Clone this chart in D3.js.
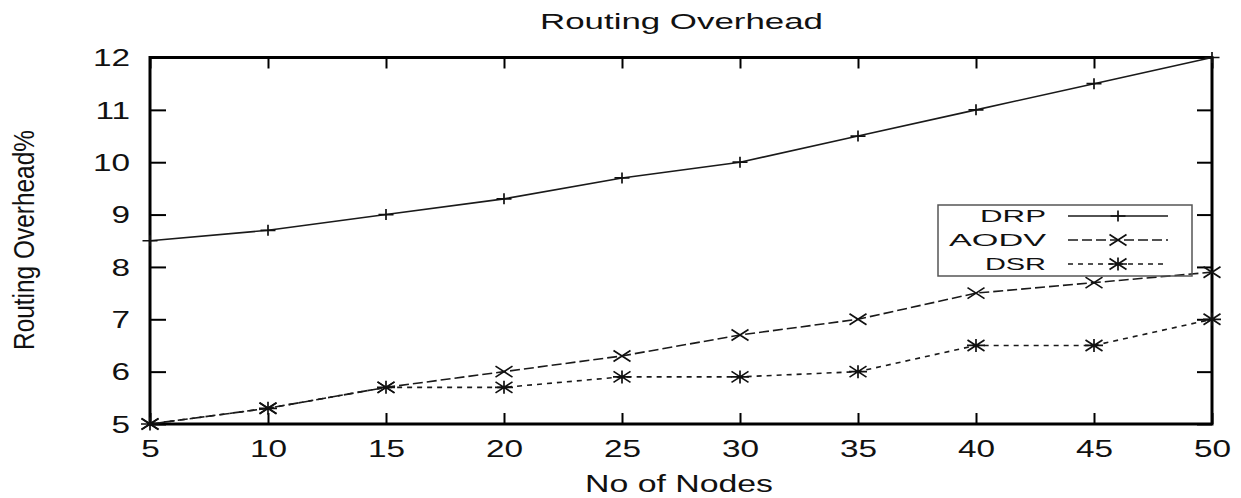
<!DOCTYPE html>
<html><head><meta charset="utf-8">
<script src="https://cdn.jsdelivr.net/npm/d3@7"></script>
<style>body{margin:0;background:#fff}svg{display:block}text{font-family:"Liberation Sans",Arial,sans-serif;fill:#111}</style>
</head><body>
<svg id="c" width="1241" height="498"></svg>
<script>
const nodes = [5,10,15,20,25,30,35,40,45,50];
const drp  = [8.5,8.7,9.0,9.3,9.7,10.0,10.5,11.0,11.5,12.0];
const aodv = [5.0,5.3,5.7,6.0,6.3,6.7,7.0,7.5,7.7,7.9];
const dsr  = [5.0,5.3,5.7,5.7,5.9,5.9,6.0,6.5,6.5,7.0];
const seriesNames = ["DRP","AODV","DSR"];
const yTicks = [5,6,7,8,9,10,11,12];
const xTicks = [5,10,15,20,25,30,35,40,45,50];
const titleText = "Routing Overhead";
const xLabel = "No of Nodes";
const yLabel = "Routing Overhead%";

const svg = d3.select("#c");
const L=150, R=1212, T=57.5, B=424;
const x = d3.scaleLinear().domain([5,50]).range([L,R]);
const y = d3.scaleLinear().domain([5,12]).range([B,T]);

// axes
const gB = svg.append("g").attr("transform",`translate(0,${B})`)
  .call(d3.axisBottom(x).tickValues(xTicks).tickSize(-11).tickPadding(0).tickFormat(d3.format("d")));
const gT = svg.append("g").attr("transform",`translate(0,${T})`)
  .call(d3.axisTop(x).tickValues(xTicks).tickSize(-11).tickFormat(""));
const gL = svg.append("g").attr("transform",`translate(${L},0)`)
  .call(d3.axisLeft(y).tickValues(yTicks).tickSize(-16).tickFormat(d3.format("d")));
const gR = svg.append("g").attr("transform",`translate(${R},0)`)
  .call(d3.axisRight(y).tickValues(yTicks).tickSize(-15).tickFormat(""));
[gB,gT,gL,gR].forEach(g=>{
  g.select(".domain").remove();
  g.selectAll(".tick line").attr("stroke","#000").attr("stroke-width",2);
  g.selectAll("text").attr("font-family",'"Liberation Sans",Arial,sans-serif').attr("font-size",23).attr("fill","#111");
});
gB.selectAll(".tick text").attr("y",33).attr("dy",0).attr("transform","scale(1.45,1)");
gL.selectAll(".tick text").attr("x",-20/1.45).attr("dy","0.36em").attr("transform","scale(1.45,1)");

// frame
svg.append("rect").attr("x",L).attr("y",T).attr("width",R-L).attr("height",B-T)
  .attr("fill","none").attr("stroke","#000").attr("stroke-width",3);

// series
const series = [
  {name:seriesNames[0], vals:drp,  dash:null,   mark:"plus"},
  {name:seriesNames[1], vals:aodv, dash:"10,4", mark:"cross"},
  {name:seriesNames[2], vals:dsr,  dash:"5,5",  mark:"star"}
];
function markerPath(type,cx,cy){
  const p=d3.path();
  if(type==="plus"){ p.moveTo(cx-7.5,cy);p.lineTo(cx+7.5,cy);p.moveTo(cx,cy-5.5);p.lineTo(cx,cy+5.5); }
  if(type==="cross"){ p.moveTo(cx-8.5,cy-5.5);p.lineTo(cx+8.5,cy+5.5);p.moveTo(cx-8.5,cy+5.5);p.lineTo(cx+8.5,cy-5.5); }
  if(type==="star"){ p.moveTo(cx-8.5,cy-5.5);p.lineTo(cx+8.5,cy+5.5);p.moveTo(cx-8.5,cy+5.5);p.lineTo(cx+8.5,cy-5.5);
                     p.moveTo(cx-9,cy);p.lineTo(cx+9,cy);p.moveTo(cx,cy-6.5);p.lineTo(cx,cy+6.5); }
  return p.toString();
}
const line = d3.line().x((d,i)=>x(nodes[i])).y(d=>y(d));
series.forEach(s=>{
  svg.append("path").attr("d",line(s.vals)).attr("fill","none").attr("stroke","#1a1a1a")
    .attr("stroke-width",1.6).attr("stroke-dasharray",s.dash);
  svg.append("g").selectAll("path").data(s.vals).join("path")
    .attr("d",(d,i)=>markerPath(s.mark,x(nodes[i]),y(d)))
    .attr("stroke","#111").attr("stroke-width",1.7).attr("fill","none");
});

// legend
const lg = svg.append("g");
lg.append("rect").attr("x",938).attr("y",205).attr("width",254).attr("height",71)
  .attr("fill","none").attr("stroke","#555").attr("stroke-width",1.5);
const legLens = [66,97,61];
series.forEach((s,i)=>{
  const cy = 216 + i*24;
  lg.append("text").attr("x",1046).attr("y",cy+6).attr("text-anchor","end").attr("font-size",17)
    .attr("textLength",legLens[i]).attr("lengthAdjust","spacingAndGlyphs").text(s.name);
  lg.append("line").attr("x1",1068).attr("x2",1168).attr("y1",cy).attr("y2",cy)
    .attr("stroke","#1a1a1a").attr("stroke-width",1.6).attr("stroke-dasharray",s.dash);
  lg.append("path").attr("d",markerPath(s.mark,1118,cy)).attr("stroke","#111").attr("stroke-width",1.7);
});

// titles
svg.append("text").attr("x",681.5).attr("y",29).attr("text-anchor","middle").attr("font-size",22)
  .attr("textLength",283).attr("lengthAdjust","spacingAndGlyphs").text(titleText);
svg.append("text").attr("x",679).attr("y",492).attr("text-anchor","middle").attr("font-size",23)
  .attr("textLength",188).attr("lengthAdjust","spacingAndGlyphs").text(xLabel);
svg.append("text").attr("transform","translate(34,240) rotate(-90) scale(1,1.47)")
  .attr("text-anchor","middle").attr("font-size",20)
  .attr("textLength",220).attr("lengthAdjust","spacingAndGlyphs").text(yLabel);
</script>
</body></html>
